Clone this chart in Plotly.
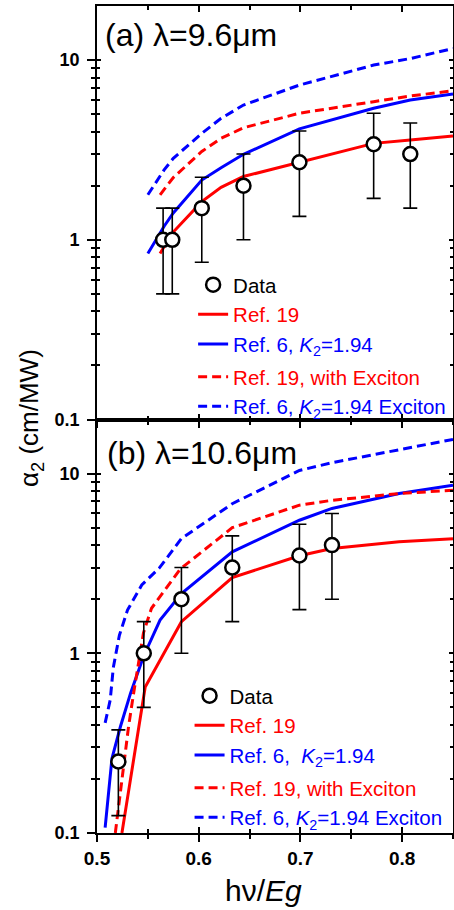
import plotly.graph_objects as go

# ---------------- Data: panel (a) lambda = 9.6 um ----------------
xa_data = [0.565, 0.574, 0.603, 0.644, 0.699, 0.772, 0.808]
ya_data = [1.0, 1.0, 1.5, 2.0, 2.7, 3.4, 3.0]
ya_hi = [1.5, 1.5, 2.23, 3.0, 4.03, 5.06, 4.47]
ya_lo = [0.5, 0.5, 0.75, 1.0, 1.35, 1.7, 1.5]

xa_ref19 = [0.562, 0.574, 0.603, 0.622, 0.644, 0.699, 0.772, 0.808, 0.85]
ya_ref19 = [0.84, 1.09, 1.63, 1.96, 2.25, 2.7, 3.44, 3.59, 3.78]
xa_ref6 = [0.55, 0.566, 0.575, 0.603, 0.622, 0.644, 0.699, 0.772, 0.808, 0.85]
ya_ref6 = [0.84, 1.19, 1.41, 2.15, 2.52, 2.99, 4.14, 5.39, 5.99, 6.47]
xa_ref19x = [0.562, 0.575, 0.603, 0.622, 0.644, 0.699, 0.772, 0.808, 0.85]
ya_ref19x = [1.78, 2.22, 3.1, 3.67, 4.2, 5.06, 5.87, 6.31, 6.75]
xa_ref6x = [0.55, 0.566, 0.575, 0.603, 0.622, 0.644, 0.699, 0.772, 0.808, 0.85]
ya_ref6x = [1.78, 2.45, 2.84, 3.91, 4.74, 5.62, 7.26, 9.38, 10.2, 11.6]

# ---------------- Data: panel (b) lambda = 10.6 um ----------------
xb_data = [0.521, 0.546, 0.583, 0.633, 0.699, 0.731]
yb_data = [0.25, 1.0, 2.0, 3.0, 3.5, 4.0]
yb_hi = [0.375, 1.5, 3.0, 4.5, 5.23, 6.0]
yb_lo = [0.125, 0.5, 1.0, 1.5, 1.75, 2.0]

xb_ref19 = [0.5245, 0.5474, 0.583, 0.633, 0.699, 0.731, 0.797, 0.85]
yb_ref19 = [0.1, 0.65, 1.5, 2.64, 3.49, 3.83, 4.17, 4.34]
xb_ref6 = [0.508, 0.5147, 0.523, 0.533, 0.5457, 0.562, 0.583, 0.633, 0.699, 0.731, 0.797, 0.85]
yb_ref6 = [0.107, 0.26, 0.39, 0.6, 0.96, 1.53, 2.15, 3.67, 5.5, 6.4, 7.74, 8.61]
xb_ref19x = [0.518, 0.526, 0.531, 0.536, 0.5405, 0.5457, 0.5536, 0.582, 0.633, 0.699, 0.731, 0.797, 0.85]
yb_ref19x = [0.1, 0.234, 0.39, 0.6, 0.84, 1.3, 1.78, 2.95, 5.0, 6.67, 7.1, 7.74, 8.08]
xb_ref6x = [0.508, 0.513, 0.516, 0.522, 0.530, 0.544, 0.561, 0.583, 0.633, 0.699, 0.731, 0.797, 0.85]
yb_ref6x = [0.41, 0.55, 0.83, 1.26, 1.74, 2.4, 2.97, 4.35, 6.8, 10.4, 11.5, 13.5, 15.5]

x_ticks = [0.5, 0.6, 0.7, 0.8]
x_ticklabels = ["0.5", "0.6", "0.7", "0.8"]
y_ticks = [0.1, 1, 10]
y_ticklabels = ["0.1", "1", "10"]
y_minor = [0.2, 0.3, 0.4, 0.5, 0.6, 0.7, 0.8, 0.9, 2, 3, 4, 5, 6, 7, 8, 9]

RED = "#FF0000"
BLUE = "#0000FF"
FONT = "Liberation Sans, Arial, sans-serif"
DASH = "9px,5px"

names_a = [
    '<span style="color:black">Data</span>',
    '<span style="color:#FF0000">Ref. 19</span>',
    '<span style="color:#0000FF">Ref. 6, <i>K</i><sub>2</sub>=1.94</span>',
    '<span style="color:#FF0000">Ref. 19, with Exciton</span>',
    '<span style="color:#0000FF">Ref. 6, <i>K</i><sub>2</sub>=1.94 Exciton</span>',
]
names_b = [
    '<span style="color:black">Data</span>',
    '<span style="color:#FF0000">Ref. 19</span>',
    '<span style="color:#0000FF">Ref. 6,&nbsp; <i>K</i><sub>2</sub>=1.94</span>',
    '<span style="color:#FF0000">Ref. 19, with Exciton</span>',
    '<span style="color:#0000FF">Ref. 6, <i>K</i><sub>2</sub>=1.94 Exciton</span>',
]

fig = go.Figure()


def add_panel(xax, yax, leg, names, xd, yd, hi, lo, lines):
    specs = [(RED, "solid"), (BLUE, "solid"), (RED, DASH), (BLUE, DASH)]
    for i, ((xs, ys), (c, d)) in enumerate(zip(lines, specs)):
        fig.add_trace(go.Scatter(
            x=xs, y=ys, mode="lines", name=names[i + 1],
            line=dict(color=c, width=3, dash=d),
            xaxis=xax, yaxis=yax, legend=leg,
            legendgroup=leg + ("g1" if i < 2 else "g2"), legendrank=i + 2,
            hoverinfo="skip",
        ))
    fig.add_trace(go.Scatter(
        x=xd, y=yd, mode="markers", name=names[0],
        marker=dict(symbol="circle", size=14, color="white",
                    line=dict(color="black", width=2.5)),
        error_y=dict(type="data", symmetric=False,
                     array=[h - v for h, v in zip(hi, yd)],
                     arrayminus=[v - l for v, l in zip(yd, lo)],
                     color="black", thickness=1.6, width=7),
        xaxis=xax, yaxis=yax, legend=leg,
        legendgroup=leg + "g1", legendrank=1, hoverinfo="skip",
    ))


add_panel("x", "y", "legend", names_a, xa_data, ya_data, ya_hi, ya_lo,
          [(xa_ref19, ya_ref19), (xa_ref6, ya_ref6),
           (xa_ref19x, ya_ref19x), (xa_ref6x, ya_ref6x)])
add_panel("x2", "y2", "legend2", names_b, xb_data, yb_data, yb_hi, yb_lo,
          [(xb_ref19, yb_ref19), (xb_ref6, yb_ref6),
           (xb_ref19x, yb_ref19x), (xb_ref6x, yb_ref6x)])

# dummy traces for overlay axes (inside ticks)
for xa, ya in [("x3", "y3"), ("x4", "y4")]:
    fig.add_trace(go.Scatter(x=[None], y=[None], xaxis=xa, yaxis=ya,
                             showlegend=False, hoverinfo="skip"))

XR = [0.5, 0.85]
YR = [-1, 1.301]


def xaxis_main(anchor, labels):
    return dict(
        anchor=anchor, domain=[0, 1], range=XR, showgrid=False, zeroline=False,
        automargin=False,
        showline=True, linecolor="black", linewidth=1.6, mirror=True,
        ticks="outside", ticklen=7, tickwidth=1.6, tickcolor="black",
        tickvals=x_ticks, ticktext=x_ticklabels, showticklabels=labels,
        tickfont=dict(family=FONT, size=19, color="black", weight="bold"),
        ticklabelstandoff=0,
        minor=dict(ticks="outside", ticklen=4, tickwidth=1.6, tickcolor="black",
                   dtick=0.05, tick0=0.5, showgrid=False),
    )


def yaxis_main(anchor, dom):
    return dict(
        anchor=anchor, domain=dom, type="log", range=YR, showgrid=False,
        zeroline=False, automargin=False,
        showline=True, linecolor="black", linewidth=1.6,
        mirror=True, ticks="outside", ticklen=8, tickwidth=1.6,
        tickcolor="black", tickvals=y_ticks, ticktext=y_ticklabels,
        tickfont=dict(family=FONT, size=18, color="black", weight="bold"),
        ticklabelstandoff=4,
        minor=dict(ticks="outside", ticklen=4, tickwidth=1.6, tickcolor="black",
                   tickvals=y_minor, showgrid=False),
    )


def xaxis_in(over, anchor):
    return dict(
        overlaying=over, anchor=anchor, range=XR, showgrid=False, zeroline=False,
        automargin=False,
        showline=False, mirror="ticks", ticks="inside", ticklen=6, tickwidth=1.6,
        tickcolor="black", tickvals=x_ticks, showticklabels=False,
        minor=dict(ticks="inside", ticklen=4, tickwidth=1.6, tickcolor="black",
                   dtick=0.05, tick0=0.5, showgrid=False),
    )


def yaxis_in(over, anchor):
    return dict(
        overlaying=over, anchor=anchor, type="log", range=YR, showgrid=False,
        zeroline=False, automargin=False,
        showline=False, mirror="ticks", ticks="inside",
        ticklen=4, tickwidth=1.6, tickcolor="black", tickvals=y_ticks,
        showticklabels=False,
        minor=dict(ticks="inside", ticklen=3, tickwidth=1.6, tickcolor="black",
                   tickvals=y_minor, showgrid=False),
    )


legend_common = dict(
    bgcolor="rgba(0,0,0,0)", borderwidth=0, traceorder="grouped",
    tracegroupgap=3, itemwidth=30, xanchor="left", yanchor="top",
    font=dict(family=FONT, size=20.5, color="black"), itemclick=False,
)

fig.update_layout(
    template="none",
    width=454, height=910,
    margin=dict(l=97, r=1, t=6, b=77, autoexpand=False),
    paper_bgcolor="white", plot_bgcolor="white",
    font=dict(family=FONT, color="black"),
    showlegend=True,
    xaxis=xaxis_main("y", False),
    yaxis=yaxis_main("x", [0.5, 1.0]),
    xaxis2=xaxis_main("y2", True),
    yaxis2=yaxis_main("x2", [0.0, 0.5]),
    xaxis3=xaxis_in("x", "y3"),
    yaxis3=yaxis_in("y", "x3"),
    xaxis4=xaxis_in("x2", "y4"),
    yaxis4=yaxis_in("y2", "x4"),
    legend=dict(legend_common, x=0.27, y=0.687),
    legend2=dict(legend_common, x=0.26, y=0.19),
    annotations=[
        dict(text="(a) λ=9.6μm", xref="paper", yref="paper", x=0.017, y=0.965,
             xanchor="left", yanchor="middle", showarrow=False,
             font=dict(family=FONT, size=32, color="black")),
        dict(text="(b) λ=10.6μm", xref="paper", yref="paper", x=0.022, y=0.459,
             xanchor="left", yanchor="middle", showarrow=False,
             font=dict(family=FONT, size=32, color="black")),
        dict(text="α<sub>2</sub> (cm/MW)", xref="paper", yref="paper",
             x=-0.185, y=0.502, xanchor="center", yanchor="middle",
             textangle=-90, showarrow=False,
             font=dict(family=FONT, size=26, color="black")),
        dict(text="hν/<i>Eg</i>", xref="paper", yref="paper", x=0.469, y=-0.069,
             xanchor="center", yanchor="middle", showarrow=False,
             font=dict(family=FONT, size=30, color="black")),
    ],
)

fig.write_html(
    "out.html",
    config={"displayModeBar": False},
    post_script="document.body.style.margin='0';document.body.style.overflow='hidden';",
)
